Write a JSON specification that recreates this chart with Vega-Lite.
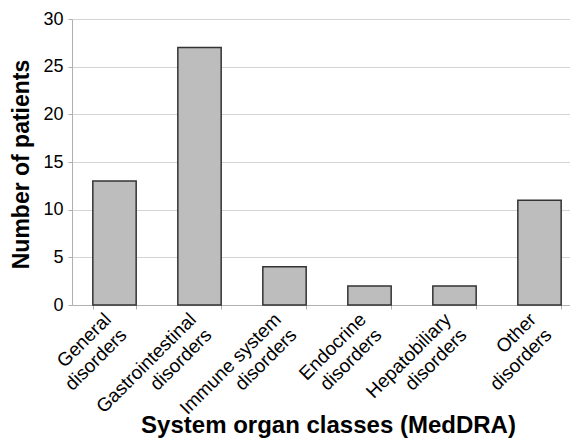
{
  "$schema": "https://vega.github.io/schema/vega-lite/v6.json",
  "width": 498,
  "height": 286,
  "autosize": "none",
  "padding": {"left": 72, "top": 19, "right": 0, "bottom": 133},
  "background": "white",
  "config": {
    "view": {"stroke": null},
    "font": "Liberation Sans"
  },
  "data": {
    "values": [
      {"category": "General|disorders", "patients": 13},
      {"category": "Gastrointestinal|disorders", "patients": 27},
      {"category": "Immune system|disorders", "patients": 4},
      {"category": "Endocrine|disorders", "patients": 2},
      {"category": "Hepatobiliary|disorders", "patients": 2},
      {"category": "Other|disorders", "patients": 11}
    ]
  },
  "mark": {"type": "bar", "fill": "#bdbdbd", "stroke": "#333333", "strokeWidth": 1.5},
  "encoding": {
    "x": {
      "field": "category",
      "type": "nominal",
      "sort": null,
      "scale": {"range": [0, 510], "paddingInner": 0.49, "paddingOuter": 0.245},
      "axis": {
        "title": "System organ classes (MedDRA)",
        "titleFont": "Liberation Sans",
        "titleFontSize": 24,
        "titleFontWeight": "bold",
        "titleColor": "black",
        "titleX": 256,
        "titleY": 127,
        "titleAlign": "center",
        "titleBaseline": "alphabetic",
        "labelExpr": "split(datum.label, '|')",
        "labelAngle": 315,
        "labelAlign": "right",
        "labelBaseline": "middle",
        "labelFontSize": 19,
        "labelLineHeight": 22,
        "labelColor": "black",
        "labelPadding": 7,
        "labelOffset": -7,
        "labelBound": false,
        "labelOverlap": false,
        "tickBand": "extent",
        "tickColor": "#b0b0b0",
        "tickSize": 4,
        "domainColor": "#b0b0b0",
        "grid": false
      }
    },
    "y": {
      "field": "patients",
      "type": "quantitative",
      "scale": {"domain": [0, 30], "nice": false},
      "axis": {
        "title": "Number of patients",
        "titleFont": "Liberation Sans",
        "titleFontSize": 23,
        "titleFontWeight": "bold",
        "titleColor": "black",
        "titleX": -44,
        "titleY": 145,
        "titleAngle": 270,
        "titleAlign": "center",
        "titleBaseline": "alphabetic",
        "values": [0, 5, 10, 15, 20, 25, 30],
        "labelFontSize": 18,
        "labelColor": "black",
        "labelPadding": 5,
        "tickSize": 4,
        "tickColor": "#b0b0b0",
        "domainColor": "#b0b0b0",
        "gridColor": "#d4d4d4",
        "gridWidth": 1
      }
    }
  }
}
